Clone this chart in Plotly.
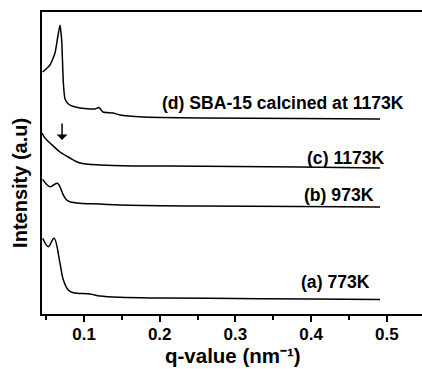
import plotly.graph_objects as go

# ---- data ----
q_a = [0.0454, 0.0528, 0.0604, 0.0683, 0.0727, 0.0793, 0.0859, 0.1079, 0.1211, 0.1476, 0.20, 0.30, 0.40, 0.491]
i_a = [75.7, 67.3, 75.7, 50.7, 34.0, 24.0, 21.3, 20.0, 18.0, 16.7, 16.0, 15.5, 15.0, 14.5]

q_b = [0.0454, 0.0551, 0.0648, 0.0727, 0.0771, 0.0815, 0.0947, 0.1211, 0.1476, 0.25, 0.385, 0.491]
i_b = [134.7, 127.3, 130.7, 119.0, 114.0, 112.3, 110.7, 110.0, 109.0, 108.0, 107.5, 107.0]

q_c = [0.0445, 0.0484, 0.0551, 0.0683, 0.0815, 0.0947, 0.121, 0.165, 0.21, 0.30, 0.385, 0.491]
i_c = [181, 176, 171, 162, 156, 151, 149, 148, 148, 147.5, 147, 146]

q_d = [0.0454, 0.0498, 0.0551, 0.0617, 0.0653, 0.0683, 0.0705, 0.0727, 0.0749, 0.0793, 0.0841,
       0.0947, 0.1079, 0.1145, 0.1198, 0.1251, 0.1383, 0.1476, 0.1779, 0.2004, 0.2532, 0.3853, 0.491]
i_d = [242, 245, 249, 261, 277, 289, 274, 231, 215, 210, 208,
       206, 205, 205, 206.5, 202, 201, 199, 197, 196.5, 196, 195.5, 195]

labels = ["(a) 773K", "(b) 973K", "(c) 1173K", "(d) SBA-15 calcined at 1173K"]
label_x = [0.4810, 0.4855, 0.5003, 0.5257]
label_y = [32, 119, 156, 211]

arrow_q = 0.071
arrow_from = 192
arrow_to = 174

x_ticks = [0.1, 0.2, 0.3, 0.4, 0.5]
x_tick_text = ["0.1", "0.2", "0.3", "0.4", "0.5"]

FONT = "Liberation Sans, Arial, sans-serif"

fig = go.Figure()
for q, inten, sm in [(q_a, i_a, 1.0), (q_b, i_b, 1.0), (q_c, i_c, 0.8), (q_d, i_d, 0.5)]:
    fig.add_trace(go.Scatter(x=q, y=inten, mode="lines",
                             line=dict(color="black", width=1.5, shape="spline", smoothing=sm),
                             showlegend=False, hoverinfo="skip"))

for t, x, y in zip(labels, label_x, label_y):
    fig.add_annotation(x=x, y=y, xref="x", yref="y", text=t, showarrow=False,
                       xanchor="right", yanchor="middle",
                       font=dict(family=FONT, size=17.6, color="black", weight="bold"))

fig.add_annotation(x=arrow_q, y=arrow_to, ax=arrow_q, ay=arrow_from, xref="x", yref="y",
                   axref="x", ayref="y", text="", showarrow=True, arrowhead=1,
                   arrowsize=1.2, arrowwidth=1.5, arrowcolor="black")

fig.add_annotation(x=0.503, y=-0.1785, xref="paper", yref="paper",
                   text="q-value (nm\u207b\u00b9)", showarrow=False,
                   xanchor="center", yanchor="bottom", borderpad=0,
                   font=dict(family=FONT, size=20.5, color="black", weight="bold"))
fig.add_annotation(x=-0.058, y=0.434, xref="paper", yref="paper",
                   text="Intensity (a.u)", showarrow=False, textangle=-90,
                   xanchor="center", yanchor="middle",
                   font=dict(family=FONT, size=20, color="black", weight="bold"))

fig.update_layout(
    width=422, height=369,
    margin=dict(l=42, r=0, t=12, b=55),
    paper_bgcolor="white", plot_bgcolor="white",
    xaxis=dict(range=[0.0445, 0.5465], showgrid=False, zeroline=False,
               showline=True, linecolor="black", linewidth=1.5, mirror=True,
               ticks="outside", ticklen=6, tickwidth=1.5, tickcolor="black",
               tickvals=x_ticks, ticktext=x_tick_text, ticklabelstandoff=-2,
               tickfont=dict(family=FONT, size=17, color="black", weight="bold"),
               minor=dict(tickvals=[0.05, 0.15, 0.25, 0.35, 0.45], ticks="outside",
                          ticklen=4, tickwidth=1.5, tickcolor="black")),
    yaxis=dict(range=[0, 302], showgrid=False, zeroline=False,
               showline=True, linecolor="black", linewidth=1.5,
               ticks="", showticklabels=False),
)

fig.write_html("out.html")
